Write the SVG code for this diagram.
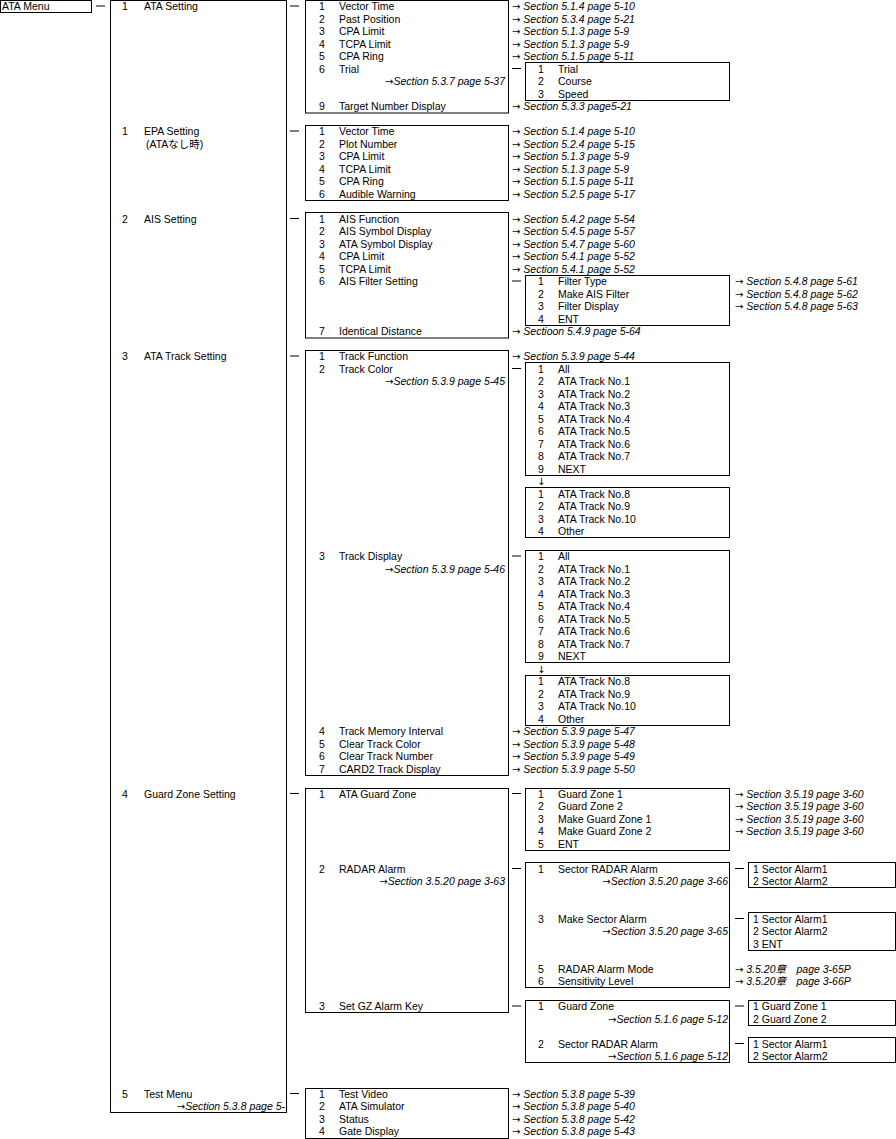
<svg xmlns="http://www.w3.org/2000/svg" width="896" height="1139" viewBox="0 0 896 1139">
<style>
text{font-family:"Liberation Sans","Noto Sans CJK JP",sans-serif;font-size:10.5px;fill:#000}
.r{font-style:italic}
.e{text-anchor:end;font-style:italic}
.a{font-family:"DejaVu Sans",sans-serif;font-style:normal;font-size:10px}
rect{fill:#fff;stroke:#000;stroke-width:1}
line{stroke:#000;stroke-width:1}
</style>
<rect width="896" height="1139" style="fill:#fff;stroke:none"/>
<g id="connectors">
<line x1="96" y1="6" x2="105" y2="6"/>
<line x1="290" y1="6" x2="299" y2="6"/><line x1="290" y1="131" x2="299" y2="131"/><line x1="290" y1="218.5" x2="299" y2="218.5"/><line x1="290" y1="356" x2="299" y2="356"/><line x1="290" y1="793.5" x2="299" y2="793.5"/><line x1="290" y1="1093.5" x2="299" y2="1093.5"/>
<line x1="512" y1="68.5" x2="521" y2="68.5"/><line x1="512" y1="281" x2="521" y2="281"/><line x1="512" y1="368.5" x2="521" y2="368.5"/><line x1="512" y1="556" x2="521" y2="556"/><line x1="512" y1="793.5" x2="521" y2="793.5"/><line x1="512" y1="868.5" x2="521" y2="868.5"/><line x1="512" y1="1006" x2="521" y2="1006"/>
<line x1="735" y1="868.5" x2="744" y2="868.5"/><line x1="735" y1="918.5" x2="744" y2="918.5"/><line x1="735" y1="1006" x2="744" y2="1006"/><line x1="735" y1="1043.5" x2="744" y2="1043.5"/>
</g>
<g id="ata-menu"><rect x="0.5" y="0.5" width="91" height="12"/><text x="2" y="10">ATA Menu</text></g>
<g id="level1"><rect x="110.5" y="0.5" width="176" height="1112"/>
<text x="122" y="10">1</text><text x="144" y="10">ATA Setting</text>
<text x="122" y="135">1</text><text x="144" y="135">EPA Setting</text><text x="146" y="147.5">(ATAなし時)</text>
<text x="122" y="222.5">2</text><text x="144" y="222.5">AIS Setting</text>
<text x="122" y="360">3</text><text x="144" y="360">ATA Track Setting</text>
<text x="122" y="797.5">4</text><text x="144" y="797.5">Guard Zone Setting</text>
<text x="122" y="1097.5">5</text><text x="144" y="1097.5">Test Menu</text><text class="e" x="285" y="1110"><tspan class="a">→</tspan>Section 5.3.8 page 5-</text>
</g>
<g id="ata-setting"><rect x="305.5" y="0.5" width="203" height="112.5"/>
<text x="319" y="10">1</text><text x="339" y="10">Vector Time</text>
<text x="319" y="22.5">2</text><text x="339" y="22.5">Past Position</text>
<text x="319" y="35">3</text><text x="339" y="35">CPA Limit</text>
<text x="319" y="47.5">4</text><text x="339" y="47.5">TCPA Limit</text>
<text x="319" y="60">5</text><text x="339" y="60">CPA Ring</text>
<text x="319" y="72.5">6</text><text x="339" y="72.5">Trial</text><text class="e" x="505" y="85"><tspan class="a">→</tspan>Section 5.3.7 page 5-37</text>
<text x="319" y="110">9</text><text x="339" y="110">Target Number Display</text>
</g>
<g id="trial"><rect x="525.5" y="62.5" width="204" height="38"/>
<text x="538" y="72.5">1</text><text x="558" y="72.5">Trial</text>
<text x="538" y="85">2</text><text x="558" y="85">Course</text>
<text x="538" y="97.5">3</text><text x="558" y="97.5">Speed</text></g>
<g id="epa-setting"><rect x="305.5" y="125.5" width="203" height="75"/>
<text x="319" y="135">1</text><text x="339" y="135">Vector Time</text>
<text x="319" y="147.5">2</text><text x="339" y="147.5">Plot Number</text>
<text x="319" y="160">3</text><text x="339" y="160">CPA Limit</text>
<text x="319" y="172.5">4</text><text x="339" y="172.5">TCPA Limit</text>
<text x="319" y="185">5</text><text x="339" y="185">CPA Ring</text>
<text x="319" y="197.5">6</text><text x="339" y="197.5">Audible Warning</text></g>
<g id="ais-setting"><rect x="305.5" y="212.5" width="203" height="125.5"/>
<text x="319" y="222.5">1</text><text x="339" y="222.5">AIS Function</text>
<text x="319" y="235">2</text><text x="339" y="235">AIS Symbol Display</text>
<text x="319" y="247.5">3</text><text x="339" y="247.5">ATA Symbol Display</text>
<text x="319" y="260">4</text><text x="339" y="260">CPA Limit</text>
<text x="319" y="272.5">5</text><text x="339" y="272.5">TCPA Limit</text>
<text x="319" y="285">6</text><text x="339" y="285">AIS Filter Setting</text>
<text x="319" y="335">7</text><text x="339" y="335">Identical Distance</text></g>
<g id="ais-filter"><rect x="525.5" y="275.5" width="204" height="50"/>
<text x="538" y="285">1</text><text x="558" y="285">Filter Type</text>
<text x="538" y="297.5">2</text><text x="558" y="297.5">Make AIS Filter</text>
<text x="538" y="310">3</text><text x="558" y="310">Filter Display</text>
<text x="538" y="322.5">4</text><text x="558" y="322.5">ENT</text></g>
<g id="track-setting"><rect x="305.5" y="350.5" width="203" height="425"/>
<text x="319" y="360">1</text><text x="339" y="360">Track Function</text>
<text x="319" y="372.5">2</text><text x="339" y="372.5">Track Color</text><text class="e" x="505" y="385"><tspan class="a">→</tspan>Section 5.3.9 page 5-45</text>
<text x="319" y="560">3</text><text x="339" y="560">Track Display</text><text class="e" x="505" y="572.5"><tspan class="a">→</tspan>Section 5.3.9 page 5-46</text>
<text x="319" y="735">4</text><text x="339" y="735">Track Memory Interval</text>
<text x="319" y="747.5">5</text><text x="339" y="747.5">Clear Track Color</text>
<text x="319" y="760">6</text><text x="339" y="760">Clear Track Number</text>
<text x="319" y="772.5">7</text><text x="339" y="772.5">CARD2 Track Display</text></g>
<g id="track-color"><rect x="525.5" y="362.5" width="204" height="113"/>
<text x="538" y="372.5">1</text><text x="558" y="372.5">All</text>
<text x="538" y="385">2</text><text x="558" y="385">ATA Track No.1</text>
<text x="538" y="397.5">3</text><text x="558" y="397.5">ATA Track No.2</text>
<text x="538" y="410">4</text><text x="558" y="410">ATA Track No.3</text>
<text x="538" y="422.5">5</text><text x="558" y="422.5">ATA Track No.4</text>
<text x="538" y="435">6</text><text x="558" y="435">ATA Track No.5</text>
<text x="538" y="447.5">7</text><text x="558" y="447.5">ATA Track No.6</text>
<text x="538" y="460">8</text><text x="558" y="460">ATA Track No.7</text>
<text x="538" y="472.5">9</text><text x="558" y="472.5">NEXT</text>
<text class="a" x="537" y="485">↓</text></g>
<g id="track-color-2"><rect x="525.5" y="487.5" width="204" height="50"/>
<text x="538" y="497.5">1</text><text x="558" y="497.5">ATA Track No.8</text>
<text x="538" y="510">2</text><text x="558" y="510">ATA Track No.9</text>
<text x="538" y="522.5">3</text><text x="558" y="522.5">ATA Track No.10</text>
<text x="538" y="535">4</text><text x="558" y="535">Other</text></g>
<g id="track-display"><rect x="525.5" y="550.5" width="204" height="112"/>
<text x="538" y="560">1</text><text x="558" y="560">All</text>
<text x="538" y="572.5">2</text><text x="558" y="572.5">ATA Track No.1</text>
<text x="538" y="585">3</text><text x="558" y="585">ATA Track No.2</text>
<text x="538" y="597.5">4</text><text x="558" y="597.5">ATA Track No.3</text>
<text x="538" y="610">5</text><text x="558" y="610">ATA Track No.4</text>
<text x="538" y="622.5">6</text><text x="558" y="622.5">ATA Track No.5</text>
<text x="538" y="635">7</text><text x="558" y="635">ATA Track No.6</text>
<text x="538" y="647.5">8</text><text x="558" y="647.5">ATA Track No.7</text>
<text x="538" y="660">9</text><text x="558" y="660">NEXT</text>
<text class="a" x="537" y="672.5">↓</text></g>
<g id="track-display-2"><rect x="525.5" y="675.5" width="204" height="50"/>
<text x="538" y="685">1</text><text x="558" y="685">ATA Track No.8</text>
<text x="538" y="697.5">2</text><text x="558" y="697.5">ATA Track No.9</text>
<text x="538" y="710">3</text><text x="558" y="710">ATA Track No.10</text>
<text x="538" y="722.5">4</text><text x="558" y="722.5">Other</text></g>
<g id="guard-zone-setting"><rect x="305.5" y="788.5" width="203" height="224"/>
<text x="319" y="797.5">1</text><text x="339" y="797.5">ATA Guard Zone</text>
<text x="319" y="872.5">2</text><text x="339" y="872.5">RADAR Alarm</text><text class="e" x="505" y="885"><tspan class="a">→</tspan>Section 3.5.20 page 3-63</text>
<text x="319" y="1010">3</text><text x="339" y="1010">Set GZ Alarm Key</text></g>
<g id="ata-guard-zone"><rect x="525.5" y="788.5" width="204" height="62"/>
<text x="538" y="797.5">1</text><text x="558" y="797.5">Guard Zone 1</text>
<text x="538" y="810">2</text><text x="558" y="810">Guard Zone 2</text>
<text x="538" y="822.5">3</text><text x="558" y="822.5">Make Guard Zone 1</text>
<text x="538" y="835">4</text><text x="558" y="835">Make Guard Zone 2</text>
<text x="538" y="847.5">5</text><text x="558" y="847.5">ENT</text></g>
<g id="radar-alarm"><rect x="525.5" y="862.5" width="204" height="125"/>
<text x="538" y="872.5">1</text><text x="558" y="872.5">Sector RADAR Alarm</text><text class="e" x="728" y="885"><tspan class="a">→</tspan>Section 3.5.20 page 3-66</text>
<text x="538" y="922.5">3</text><text x="558" y="922.5">Make Sector Alarm</text><text class="e" x="728" y="935"><tspan class="a">→</tspan>Section 3.5.20 page 3-65</text>
<text x="538" y="972.5">5</text><text x="558" y="972.5">RADAR Alarm Mode</text>
<text x="538" y="985">6</text><text x="558" y="985">Sensitivity Level</text></g>
<g id="gz-alarm-key"><rect x="525.5" y="1000.5" width="204" height="62"/>
<text x="538" y="1010">1</text><text x="558" y="1010">Guard Zone</text><text class="e" x="728" y="1022.5"><tspan class="a">→</tspan>Section 5.1.6 page 5-12</text>
<text x="538" y="1047.5">2</text><text x="558" y="1047.5">Sector RADAR Alarm</text><text class="e" x="728" y="1060"><tspan class="a">→</tspan>Section 5.1.6 page 5-12</text></g>
<g id="sector-alarm-a"><rect x="748.5" y="862.5" width="147" height="25"/><text x="753" y="872.5">1 Sector Alarm1</text><text x="753" y="885">2 Sector Alarm2</text></g>
<g id="sector-alarm-b"><rect x="748.5" y="912.5" width="147" height="38"/><text x="753" y="922.5">1 Sector Alarm1</text><text x="753" y="935">2 Sector Alarm2</text><text x="753" y="947.5">3 ENT</text></g>
<g id="guard-zone-key"><rect x="748.5" y="1000.5" width="147" height="25"/><text x="753" y="1010">1 Guard Zone 1</text><text x="753" y="1022.5">2 Guard Zone 2</text></g>
<g id="sector-alarm-c"><rect x="748.5" y="1037.5" width="147" height="25"/><text x="753" y="1047.5">1 Sector Alarm1</text><text x="753" y="1060">2 Sector Alarm2</text></g>
<g id="test-menu"><rect x="305.5" y="1088.5" width="203" height="50"/>
<text x="319" y="1097.5">1</text><text x="339" y="1097.5">Test Video</text>
<text x="319" y="1110">2</text><text x="339" y="1110">ATA Simulator</text>
<text x="319" y="1122.5">3</text><text x="339" y="1122.5">Status</text>
<text x="319" y="1135">4</text><text x="339" y="1135">Gate Display</text></g>
<g id="references">
<text x="512" y="10"><tspan class="a">→</tspan> <tspan class="r">Section 5.1.4 page 5-10</tspan></text>
<text x="512" y="22.5"><tspan class="a">→</tspan> <tspan class="r">Section 5.3.4 page 5-21</tspan></text>
<text x="512" y="35"><tspan class="a">→</tspan> <tspan class="r">Section 5.1.3 page 5-9</tspan></text>
<text x="512" y="47.5"><tspan class="a">→</tspan> <tspan class="r">Section 5.1.3 page 5-9</tspan></text>
<text x="512" y="60"><tspan class="a">→</tspan> <tspan class="r">Section 5.1.5 page 5-11</tspan></text>
<text x="512" y="110"><tspan class="a">→</tspan> <tspan class="r">Section 5.3.3 page5-21</tspan></text>
<text x="512" y="135"><tspan class="a">→</tspan> <tspan class="r">Section 5.1.4 page 5-10</tspan></text>
<text x="512" y="147.5"><tspan class="a">→</tspan> <tspan class="r">Section 5.2.4 page 5-15</tspan></text>
<text x="512" y="160"><tspan class="a">→</tspan> <tspan class="r">Section 5.1.3 page 5-9</tspan></text>
<text x="512" y="172.5"><tspan class="a">→</tspan> <tspan class="r">Section 5.1.3 page 5-9</tspan></text>
<text x="512" y="185"><tspan class="a">→</tspan> <tspan class="r">Section 5.1.5 page 5-11</tspan></text>
<text x="512" y="197.5"><tspan class="a">→</tspan> <tspan class="r">Section 5.2.5 page 5-17</tspan></text>
<text x="512" y="222.5"><tspan class="a">→</tspan> <tspan class="r">Section 5.4.2 page 5-54</tspan></text>
<text x="512" y="235"><tspan class="a">→</tspan> <tspan class="r">Section 5.4.5 page 5-57</tspan></text>
<text x="512" y="247.5"><tspan class="a">→</tspan> <tspan class="r">Section 5.4.7 page 5-60</tspan></text>
<text x="512" y="260"><tspan class="a">→</tspan> <tspan class="r">Section 5.4.1 page 5-52</tspan></text>
<text x="512" y="272.5"><tspan class="a">→</tspan> <tspan class="r">Section 5.4.1 page 5-52</tspan></text>
<text x="512" y="335"><tspan class="a">→</tspan> <tspan class="r">Sectioon 5.4.9 page 5-64</tspan></text>
<text x="735" y="285"><tspan class="a">→</tspan> <tspan class="r">Section 5.4.8 page 5-61</tspan></text>
<text x="735" y="297.5"><tspan class="a">→</tspan> <tspan class="r">Section 5.4.8 page 5-62</tspan></text>
<text x="735" y="310"><tspan class="a">→</tspan> <tspan class="r">Section 5.4.8 page 5-63</tspan></text>
<text x="512" y="360"><tspan class="a">→</tspan> <tspan class="r">Section 5.3.9 page 5-44</tspan></text>
<text x="512" y="735"><tspan class="a">→</tspan> <tspan class="r">Section 5.3.9 page 5-47</tspan></text>
<text x="512" y="747.5"><tspan class="a">→</tspan> <tspan class="r">Section 5.3.9 page 5-48</tspan></text>
<text x="512" y="760"><tspan class="a">→</tspan> <tspan class="r">Section 5.3.9 page 5-49</tspan></text>
<text x="512" y="772.5"><tspan class="a">→</tspan> <tspan class="r">Section 5.3.9 page 5-50</tspan></text>
<text x="735" y="797.5"><tspan class="a">→</tspan> <tspan class="r">Section 3.5.19 page 3-60</tspan></text>
<text x="735" y="810"><tspan class="a">→</tspan> <tspan class="r">Section 3.5.19 page 3-60</tspan></text>
<text x="735" y="822.5"><tspan class="a">→</tspan> <tspan class="r">Section 3.5.19 page 3-60</tspan></text>
<text x="735" y="835"><tspan class="a">→</tspan> <tspan class="r">Section 3.5.19 page 3-60</tspan></text>
<text x="735" y="972.5"><tspan class="a">→</tspan> <tspan class="r">3.5.20章　page 3-65P</tspan></text>
<text x="735" y="985"><tspan class="a">→</tspan> <tspan class="r">3.5.20章　page 3-66P</tspan></text>
<text x="512" y="1097.5"><tspan class="a">→</tspan> <tspan class="r">Section 5.3.8 page 5-39</tspan></text>
<text x="512" y="1110"><tspan class="a">→</tspan> <tspan class="r">Section 5.3.8 page 5-40</tspan></text>
<text x="512" y="1122.5"><tspan class="a">→</tspan> <tspan class="r">Section 5.3.8 page 5-42</tspan></text>
<text x="512" y="1135"><tspan class="a">→</tspan> <tspan class="r">Section 5.3.8 page 5-43</tspan></text>
</g>
</svg>
